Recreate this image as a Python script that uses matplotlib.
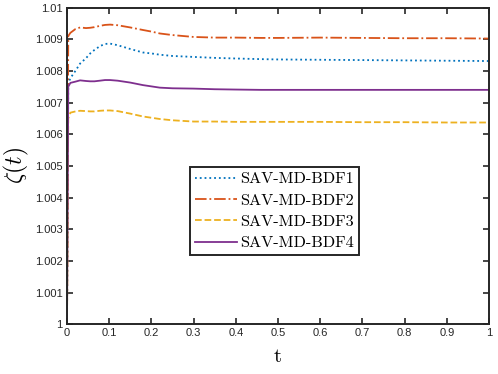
import matplotlib
matplotlib.use("Agg")
import matplotlib.pyplot as plt
import numpy as np

t = [0.0, 0.003, 0.008, 0.02, 0.031, 0.045, 0.055, 0.065, 0.078, 0.09, 0.102, 0.12, 0.15, 0.18, 0.2, 0.22, 0.25, 0.3, 0.35, 0.4, 0.46, 0.5, 0.6, 0.7, 0.8, 0.9, 1.0]

bdf1 = [1.0, 1.0076, 1.00777, 1.00800, 1.00823, 1.0084, 1.00855, 1.00866, 1.00878, 1.00885, 1.00886, 1.00881, 1.00869, 1.00858, 1.00855, 1.00851, 1.00847, 1.00844, 1.00841, 1.00839, 1.00837, 1.00836, 1.00835, 1.00834, 1.00833, 1.00832, 1.00831]
bdf2 = [1.0, 1.0091, 1.0092, 1.00932, 1.00937, 1.00935, 1.00936, 1.00938, 1.00942, 1.00945, 1.00946, 1.00944, 1.00937, 1.00929, 1.00924, 1.00918, 1.00913, 1.00907, 1.00905, 1.00905, 1.00904, 1.00904, 1.00905, 1.00904, 1.00903, 1.00903, 1.00902]
bdf3 = [1.0, 1.0065, 1.00668, 1.00672, 1.00674, 1.00673, 1.00672, 1.00672, 1.00674, 1.00675, 1.00675, 1.00673, 1.00665, 1.00656, 1.00652, 1.00648, 1.00644, 1.0064, 1.0064, 1.00639, 1.00639, 1.00639, 1.00639, 1.00638, 1.00638, 1.00637, 1.00637]
bdf4 = [1.0, 1.0075, 1.00762, 1.00766, 1.0077, 1.00768, 1.00767, 1.00767, 1.00769, 1.00771, 1.00771, 1.00769, 1.00763, 1.00755, 1.00751, 1.00747, 1.00745, 1.00744, 1.00742, 1.00741, 1.0074, 1.0074, 1.0074, 1.0074, 1.0074, 1.0074, 1.0074]

labels = ["SAV-MD-BDF1", "SAV-MD-BDF2", "SAV-MD-BDF3", "SAV-MD-BDF4"]
colors = ["#0072BD", "#D95319", "#EDB120", "#7E2F8E"]
styles = [":", "-.", "--", "-"]

xticks = [0, 0.1, 0.2, 0.3, 0.4, 0.5, 0.6, 0.7, 0.8, 0.9, 1]
xticklabels = ["0", "0.1", "0.2", "0.3", "0.4", "0.5", "0.6", "0.7", "0.8", "0.9", "1"]
yticks = [1.0, 1.001, 1.002, 1.003, 1.004, 1.005, 1.006, 1.007, 1.008, 1.009, 1.01]
yticklabels = ["1", "1.001", "1.002", "1.003", "1.004", "1.005", "1.006", "1.007", "1.008", "1.009", "1.01"]

plt.rcParams["mathtext.fontset"] = "cm"

fig = plt.figure(figsize=(4.98, 3.74), dpi=100)
ax = fig.add_axes([67/498, 1-324.3/374, (489-67)/498, (324.3-7.5)/374])

for y, lab, c, ls in zip([bdf1, bdf2, bdf3, bdf4], labels, colors, styles):
    ax.plot(t, y, ls, color=c, lw=1.3, label=lab)

ax.set_xlim(0, 1)
ax.set_ylim(1.0, 1.01)
ax.set_xticks(xticks)
ax.set_xticklabels(xticklabels, fontfamily="Liberation Sans", fontsize=8, color="#262626")
ax.set_yticks(yticks)
ax.set_yticklabels(yticklabels, fontfamily="Liberation Sans", fontsize=8, color="#262626")
ax.tick_params(direction="in", length=4, width=1.2, top=True, right=True, pad=3, color="#262626")
for s in ax.spines.values():
    s.set_linewidth(1.4)
    s.set_color("#262626")

ax.set_xlabel("t", fontfamily="cmr10", fontsize=15, labelpad=7)
ax.set_ylabel(r"$\zeta(t)$", fontsize=17, labelpad=3)

leg = ax.legend(loc="upper left", bbox_to_anchor=((190-67)/422, (324.3-167)/316.8),
                borderaxespad=0, prop={"family": "cmr10", "size": 11.7},
                handlelength=2.6, handletextpad=0.2, labelspacing=0.43,
                borderpad=0.3, fancybox=False, framealpha=1, edgecolor="#262626")
leg.get_frame().set_linewidth(1.4)

fig.savefig("out.png", dpi=100)
